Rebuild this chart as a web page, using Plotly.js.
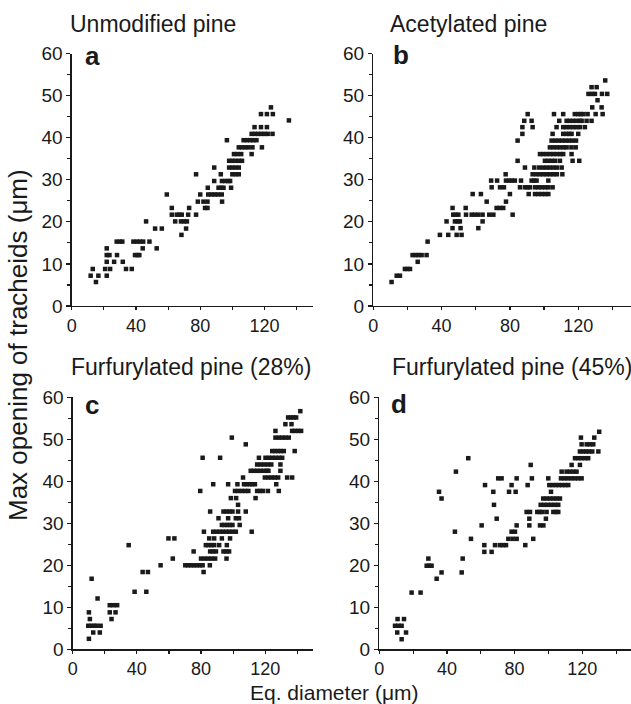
<!DOCTYPE html>
<html>
<head>
<meta charset="utf-8">
<script src="https://cdn.plot.ly/plotly-3.0.1.min.js"></script>
<style>html,body{margin:0;padding:0;background:#fff;}#chart{width:631px;height:704px;}</style>
</head>
<body>
<div id="chart"></div>
<script>
// Panel titles and labels
const panelTitles = ["Unmodified pine", "Acetylated pine", "Furfurylated pine (28%)", "Furfurylated pine (45%)"];
const panelLetters = ["a", "b", "c", "d"];
const xTickVals = [0, 40, 80, 120];
const yTickVals = [0, 10, 20, 30, 40, 50, 60];

// Panel a: Unmodified pine (Eq. diameter, Max opening)
const aX = [124, 117.8,121.5,125.2, 135.2, 113.8,117.8,121.5,
  112,114,116,118,120,122,125, 96.6,107,109,111,113,115,
  104,106,108,110,112.5,118.4, 101,103,105.5,112, 98,100,102,104,106,
  88.7,98,100,102,104, 77.4,92.8,100,102,104, 88.7,93.5,95.5,97.5,98.6,
  84.7,91.4,93,94.5,99.2, 59.2,80,85,87,89,91,93.4, 78.5,82,84.5,93.6,
  62.3,73.1,83,84.5, 62.3,65.4,67,68.5,72.5,77.4, 46.3,64.4,68,70,71.7,
  51.9,56.1,71.2, 68.3, 28,30,31.5,38.4,40.5,42.5,44.5,48.4,
  21.8,44.2,52.9, 21.8,23.5,28.2,39.4,41,42.1, 21.8,26.4,31.8,
  13.1,20.8,23.9,33.8,37.4, 11.8,16.6,21.8, 15.1];
const aY = [47.2, 45.6,45.6,45.6, 44.1, 42.5,42.5,42.5,
  40.9,40.9,40.9,40.9,40.9,40.9,40.9, 39.4,39.4,39.4,39.4,39.4,39.4,
  37.7,37.7,37.7,37.7,37.7,37.7, 36.1,36.1,36.1,36.1, 34.5,34.5,34.5,34.5,34.5,
  32.9,32.9,32.9,32.9,32.9, 31.3,31.3,31.3,31.3,31.3, 29.7,29.7,29.7,29.7,29.7,
  28.1,28.1,28.1,28.1,28.1, 26.5,26.5,26.5,26.5,26.5,26.5,26.5, 24.8,24.8,24.8,24.8,
  23.3,23.3,23.3,23.3, 21.7,21.7,21.7,21.7,21.7,21.7, 20.1,20.1,20.1,20.1,20.1,
  18.4,18.4,18.4, 16.9, 15.3,15.3,15.3,15.3,15.3,15.3,15.3,15.3,
  13.7,13.7,13.7, 12.1,12.1,12.1,12.1,12.1,12.1, 10.5,10.5,10.5,
  8.8,8.8,8.8,8.8,8.8, 7.2,7.2,7.2, 5.7];

// Panel b: Acetylated pine
const bX = [135.8, 127.8,130.8, 126,128,129.8,133.9,137, 131.3, 128.2,133.7,
  90.4,105.8,111.2,118,120,121.5,123,125.5,130.2,134.3,
  88.4,92.7,108.9,113.2,115,117,119,121,122,124.9,127.8,
  87.3,93.3,107.3,111.2,113,115,117,119,121,123.9,
  87.3,105,111.2,113,114.6,116.1,120,
  84.5,104.4,106.5,108.5,110.5,112.5,114.5,116.5,118.7,
  103.4,105.5,107.5,109.5,111.5,113.2,116,118.5,
  97.6,99.5,101.5,103.5,105.5,107.5,109.5,111.2,116.1,
  84.5,100.5,102.5,104.5,106.5,109.3,116.7,120.6,
  88.8,94.3,97.2,99.5,101.5,103.5,105.5,107.5,110.3,
  77.5,93.3,95.5,97.5,99.5,101.5,103.5,105.5,107.5,110.7,
  69,72.5,77.7,79.5,81.2,82.9,86.5,92.7,94.2,95.6,102.5,
  69.3,74.2,76.5,85.9,88.8,90.3,91.7,94.7,96.7,98.7,100.7,102.5,105,
  58.2,63,80,91,94.7,96.7,98.7,100.7,102.5,
  66.4,77.7, 46.4,54.1,72.2,74.2,76.1,
  46.8,48.3,49.8,54.3,57.6,59.5,61.5,64,67.9,70.3,81.6,
  42.9,47.8,49.3,50.7,64, 46.4,51.1,61.5, 39,43.9,48.8,51.7,
  31.8, 23,24.8,26.5,28.3,31.2, 26, 18.5,20,21.5, 13.7,15.6, 10.7];
const bY = [53.6, 52,52, 50.4,50.4,50.4,50.4,50.4, 48.9, 47.2,47.2,
  45.6,45.6,45.6,45.6,45.6,45.6,45.6,45.6,45.6,45.6,
  44,44,44,44,44,44,44,44,44,44,44,
  42.5,42.5,42.5,42.5,42.5,42.5,42.5,42.5,42.5,42.5,
  40.9,40.9,40.9,40.9,40.9,40.9,40.9,
  39.3,39.3,39.3,39.3,39.3,39.3,39.3,39.3,39.3,
  37.7,37.7,37.7,37.7,37.7,37.7,37.7,37.7,
  36.1,36.1,36.1,36.1,36.1,36.1,36.1,36.1,36.1,
  34.5,34.5,34.5,34.5,34.5,34.5,34.5,34.5,
  32.9,32.9,32.9,32.9,32.9,32.9,32.9,32.9,32.9,
  31.3,31.3,31.3,31.3,31.3,31.3,31.3,31.3,31.3,31.3,
  29.8,29.8,29.8,29.8,29.8,29.8,29.8,29.8,29.8,29.8,29.8,
  28.2,28.2,28.2,28.2,28.2,28.2,28.2,28.2,28.2,28.2,28.2,28.2,28.2,
  26.6,26.6,26.6,26.6,26.6,26.6,26.6,26.6,26.6,
  24.8,24.8, 23.3,23.3,23.3,23.3,23.3,
  21.7,21.7,21.7,21.7,21.7,21.7,21.7,21.7,21.7,21.7,21.7,
  20.1,20.1,20.1,20.1,20.1, 18.5,18.5,18.5, 16.9,16.9,16.9,16.9,
  15.3, 12.1,12.1,12.1,12.1,12.1, 10.5, 8.8,8.8,8.8, 7.2,7.2, 5.7];

// Panel c: Furfurylated pine (28%)
const cX = [141.9, 134.3,136,137.7,139.3, 132.6,136.4, 126.4,136.8,138.6,140.5,142.4,
  99.2, 126.4,128.5,130.6,132.6,134.7, 107.9, 124.4,126.2,128,129.8,131.6,138.4,
  81,91.9,116.1,120.2,122.3,124.4,126.5,128.6,130.6,
  115,117.2,119.4,121.6,123.8,129.5,
  111,113,115,117,119,121,122,129.5,
  106.2,119.8,121.9,124,126,128.1,133.7,136.8,
  87.6,96.9,102.7,106.8,108.5,110.2,111.9,113.6,126.9,
  79.5,101.2,103.3,105.4,107.5,109.5,115,116.8,118.6,121.7,128.5,
  98.6,101.9,114, 103.1,
  85.7,94,95.9,97.8,99.6,103.1,107.9,
  90.9,96.9,101.7,103.7,
  93,94.7,96.4,98,99.6,104.1,
  81.8,87.6,89.6,91.6,93.6,95.6,97.6,99.6,101.7,111.6,
  59.7,63.4,85.1,88.2,93,98.1,
  34.9,83,84.7,86.5,88.2,91.3,96.1,
  75.4,85.7,87.5,89.3,94,95.8,97.5,
  62.4,80,82.2,84.4,86.6,88.8,95.9,
  54.8,70.2,72,73.8,75.6,77.4,79.2,81,85.5,
  43.6,46.9,81.6, 11.8, 38.6,45.9, 15.5,
  23.1,25.4,27.7, 10.1,23.1,26.7, 10.7,24.2,
  9.7,11.5,13.4,14.9,17.4, 12.8,16.9, 10.1];
const cY = [56.7, 55.2,55.2,55.2,55.2, 53.6,53.6, 52,52,52,52,52,
  50.4, 50.4,50.4,50.4,50.4,50.4, 48.8, 47.2,47.2,47.2,47.2,47.2,47.2,
  45.6,45.6,45.6,45.6,45.6,45.6,45.6,45.6,45.6,
  44,44,44,44,44,44,
  42.5,42.5,42.5,42.5,42.5,42.5,42.5,42.5,
  40.9,40.9,40.9,40.9,40.9,40.9,40.9,40.9,
  39.3,39.3,39.3,39.3,39.3,39.3,39.3,39.3,39.3,
  37.7,37.7,37.7,37.7,37.7,37.7,37.7,37.7,37.7,37.7,37.7,
  36,36,36, 34.4,
  32.8,32.8,32.8,32.8,32.8,32.8,32.8,
  31.2,31.2,31.2,31.2,
  29.6,29.6,29.6,29.6,29.6,29.6,
  28,28,28,28,28,28,28,28,28,28,
  26.4,26.4,26.4,26.4,26.4,26.4,
  24.8,24.8,24.8,24.8,24.8,24.8,24.8,
  23.3,23.3,23.3,23.3,23.3,23.3,23.3,
  21.6,21.6,21.6,21.6,21.6,21.6,21.6,
  20,20,20,20,20,20,20,20,20,
  18.4,18.4,18.4, 16.8, 13.7,13.7, 12.1,
  10.5,10.5,10.5, 8.8,8.8,8.8, 7.2,7.2,
  5.6,5.6,5.6,5.6,5.6, 4,4, 2.5];

// Panel d: Furfurylated pine (45%)
const dX = [130, 119.2,127.1, 119.6,122.6,124.6,126.5, 118.6,120.4,122.2,124,125.9,129.5,
  115.7,117.7,119.6,121.6,123.5, 52.6, 89.5,113.7,118.6, 45.3,
  107.8,110.7,112.7,114.7,116.6,
  70.3,72.3,81.2,90.2,99.9,107.4,109.4,111.4,113.5,115.5,117.6,119.6,
  62.5,78.2,87.7,100.5,102.4,104.3,106.1,108,109.9,111.7,
  35.3,67.4,76.7,80.6,101.5,
  36.8,96.9,98.9,100.9,102.9,104.8,106.8,
  67.8,95.4,97.5,99.6,101.6,103.7,105.8,
  87.1,89.1,93.4,94.9,96.4,98.9,102.9,104.4,105.8,
  69.4,88.7,98.5, 60.5,81.2,88.7,95,97,
  44.7,78.2,80.2, 54.2,76.3,78.8,81.2,91,
  62.1,68.4,71.3,73.1,74.9,86.3, 62.1,66.4,
  29,49.3, 28,29.5,30.9, 36.8,48.7, 33.9, 19.1,24.4,
  10.8,14.6, 9.3,11.3,13.2, 10.6,15.8, 13.2];
const dY = [51.8, 50.4,50.4, 48.8,48.8,48.8,48.8, 47.1,47.1,47.1,47.1,47.1,47.1,
  45.5,45.5,45.5,45.5,45.5, 45.5, 43.9,43.9,43.9, 42.3,
  42.3,42.3,42.3,42.3,42.3,
  40.7,40.7,40.7,40.7,40.7,40.7,40.7,40.7,40.7,40.7,40.7,40.7,
  39.1,39.1,39.1,39.1,39.1,39.1,39.1,39.1,39.1,39.1,
  37.5,37.5,37.5,37.5,37.5,
  35.9,35.9,35.9,35.9,35.9,35.9,35.9,
  34.4,34.4,34.4,34.4,34.4,34.4,34.4,
  32.7,32.7,32.7,32.7,32.7,32.7,32.7,32.7,32.7,
  31.1,31.1,31.1, 29.5,29.5,29.5,29.5,29.5,
  28,28,28, 26.3,26.3,26.3,26.3,26.3,
  24.8,24.8,24.8,24.8,24.8,24.8, 23.2,23.2,
  21.6,21.6, 19.9,19.9,19.9, 18.3,18.3, 16.8, 13.5,13.5,
  7.2,7.2, 5.6,5.6,5.6, 4,4, 2.4];

const W = 631, H = 704;
const FONT = "Liberation Sans, Arial, Helvetica, sans-serif";
const INK = "#1a1a1a";

const seriesX = [aX, bX, cX, dX];
const seriesY = [aY, bY, cY, dY];

// pixel geometry of each panel (left, right, top, bottom) and x range max
const boxes = [
  {l: 71.7, r: 312.7, t: 53.5, b: 306, xmax: 150},
  {l: 373.3, r: 631, t: 53.5, b: 306, xmax: 150.9},
  {l: 72.7, r: 313.3, t: 397.3, b: 649.3, xmax: 150},
  {l: 379.3, r: 631, t: 397.3, b: 649.3, xmax: 148.8}
];

const traces = seriesX.map((xs, i) => ({
  type: "scatter", mode: "markers",
  x: xs, y: seriesY[i],
  xaxis: i === 0 ? "x" : "x" + (i + 1),
  yaxis: i === 0 ? "y" : "y" + (i + 1),
  marker: {symbol: "square", size: 4.5, color: INK, line: {width: 0}},
  cliponaxis: false,
  hoverinfo: "skip"
}));

const layout = {
  width: W, height: H,
  margin: {l: 0, r: 0, t: 0, b: 0},
  paper_bgcolor: "#fff", plot_bgcolor: "#fff",
  showlegend: false,
  font: {family: FONT, color: INK},
  annotations: []
};

boxes.forEach((bx, i) => {
  const sfx = i === 0 ? "" : String(i + 1);
  layout["xaxis" + sfx] = {
    domain: [bx.l / W, bx.r / W],
    range: [0, bx.xmax],
    anchor: "y" + sfx,
    tickvals: xTickVals,
    ticktext: xTickVals.map(String),
    ticks: "outside", ticklen: 3, tickwidth: 1.2, tickcolor: INK,
    minor: {dtick: 20, tick0: 0, ticks: "outside", ticklen: 3, tickwidth: 1.2, tickcolor: INK},
    showline: true, linecolor: INK, linewidth: 1.3,
    showgrid: false, zeroline: false, automargin: false,
    tickfont: {family: FONT, size: 18, color: INK}
  };
  layout["yaxis" + sfx] = {
    domain: [(H - bx.b) / H, (H - bx.t) / H],
    range: [0, 60],
    anchor: "x" + sfx,
    tickvals: yTickVals,
    ticktext: yTickVals.map(String),
    ticks: "outside", ticklen: 4, tickwidth: 1.2, tickcolor: INK,
    minor: {dtick: 5, tick0: 0, ticks: "outside", ticklen: 3, tickwidth: 1.2, tickcolor: INK},
    showline: true, linecolor: INK, linewidth: 1.3,
    showgrid: false, zeroline: false, automargin: false,
    tickfont: {family: FONT, size: 19, color: INK}
  };
});

// panel titles
const titlePos = [[68, 24], [388, 24], [69, 367], [390, 367]];
panelTitles.forEach((t, i) => {
  layout.annotations.push({
    xref: "paper", yref: "paper",
    x: titlePos[i][0] / W, y: 1 - titlePos[i][1] / H,
    xanchor: "left", yanchor: "middle",
    text: t, showarrow: false,
    font: {family: FONT, size: 23, color: INK}
  });
});

// panel letters
const letterPos = [[83, 56], [391, 55], [83, 405], [389, 404]];
panelLetters.forEach((t, i) => {
  layout.annotations.push({
    xref: "paper", yref: "paper",
    x: letterPos[i][0] / W, y: 1 - letterPos[i][1] / H,
    xanchor: "left", yanchor: "middle",
    text: "<b>" + t + "</b>", showarrow: false,
    font: {family: FONT, size: 26, color: INK}
  });
});

// shared axis titles
layout.annotations.push({
  xref: "paper", yref: "paper",
  x: 18 / W, y: 1 - 345 / H,
  xanchor: "center", yanchor: "middle", textangle: -90,
  text: "Max opening of tracheids (\u03bcm)", showarrow: false,
  font: {family: FONT, size: 26, color: INK}
});
layout.annotations.push({
  xref: "paper", yref: "paper",
  x: 334 / W, y: 0, yshift: -1,
  xanchor: "center", yanchor: "bottom", borderpad: 0,
  text: "Eq. diameter (\u03bcm)", showarrow: false,
  font: {family: FONT, size: 21, color: INK}
});

Plotly.newPlot("chart", traces, layout, {staticPlot: true, displayModeBar: false});
</script>
</body>
</html>
